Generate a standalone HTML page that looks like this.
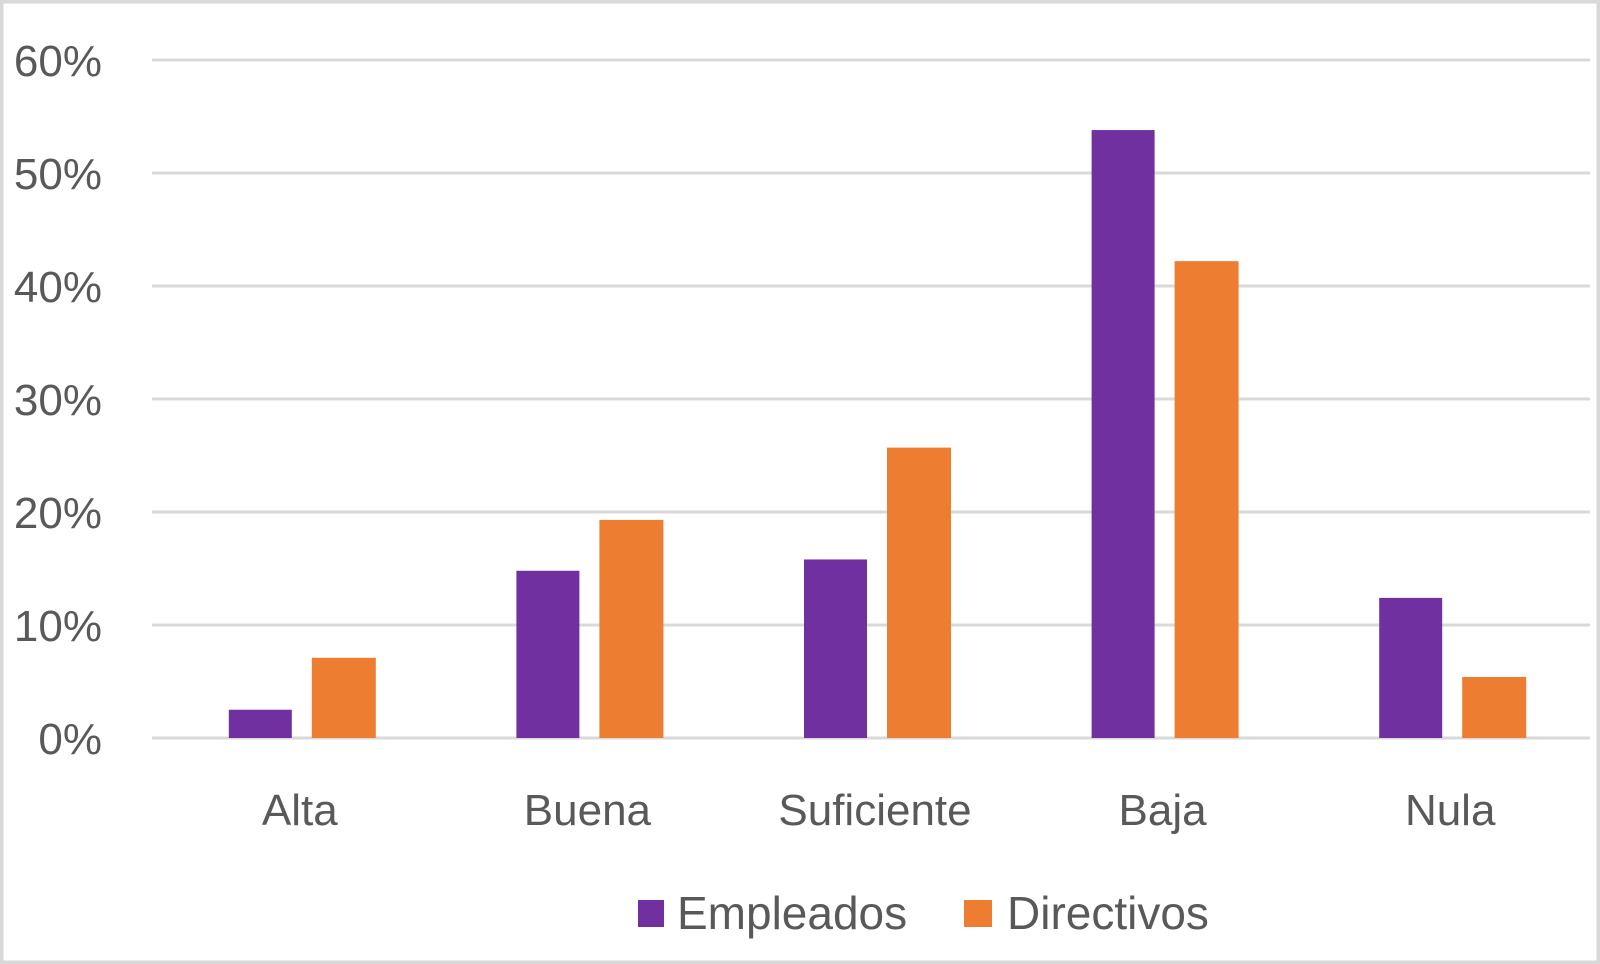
<!DOCTYPE html>
<html><head><meta charset="utf-8"><style>
html,body{margin:0;padding:0;background:#fff;}
svg{display:block;font-family:"Liberation Sans",sans-serif;}
</style></head><body>
<svg id="chart" width="1600" height="964" viewBox="0 0 1600 964">
<rect x="1.5" y="1.5" width="1597" height="961" fill="#fff" stroke="#d9d9d9" stroke-width="4"/>
<g id="grid"></g><g id="bars"></g><g id="labels"></g>
<g>
<rect x="638" y="900" width="26" height="27" fill="#7030a0"/>
<text x="677" y="929" font-size="46" fill="#595959">Empleados</text>
<rect x="964" y="900" width="28" height="27" fill="#ed7d31"/>
<text x="1007" y="929" font-size="46" fill="#595959">Directivos</text>
</g>
</svg>
<script>
const categories = ["Alta","Buena","Suficiente","Baja","Nula"];
const empleados = [2.5,14.8,15.8,53.8,12.4];
const directivos = [7.1,19.3,25.7,42.2,5.4];
const ticks = [0,10,20,30,40,50,60];
const tickLabels = ["0%","10%","20%","30%","40%","50%","60%"];
const NS="http://www.w3.org/2000/svg";
const x0=152,x1=1590,y0=738,yTop=60,vmax=60;
const y=v=>y0-(v/vmax)*(y0-yTop);
const band=(x1-x0)/categories.length;
function mk(tag,attrs,parent){const e=document.createElementNS(NS,tag);for(const k in attrs)e.setAttribute(k,attrs[k]);parent.appendChild(e);return e;}
const grid=document.getElementById('grid'),bars=document.getElementById('bars'),labels=document.getElementById('labels');
ticks.forEach((t,i)=>{
  const l=mk('line',{x1:x0,x2:x1,y1:y(t),y2:y(t),stroke:'#d9d9d9','stroke-width':3},grid);
  
  
  const tx=mk('text',{x:102,y:y(t)+16,'text-anchor':'end','font-size':44,fill:'#595959'},labels);
  tx.textContent=tickLabels[i];
  
  
});
const bw=63,gap=20;
categories.forEach((c,i)=>{
  const cx=x0+band*(i+0.5)+6;
  const b1=mk('rect',{x:cx-gap/2-bw,y:y(empleados[i]),width:bw,height:y0-y(empleados[i]),fill:'#7030a0'},bars);
  
  
  const b2=mk('rect',{x:cx+gap/2,y:y(directivos[i]),width:bw+1,height:y0-y(directivos[i]),fill:'#ed7d31'},bars);
  
  
  const t=mk('text',{x:cx-2,y:825,'text-anchor':'middle','font-size':44,fill:'#595959'},labels);
  t.textContent=c;
  
  
});
</script>
</body></html>
